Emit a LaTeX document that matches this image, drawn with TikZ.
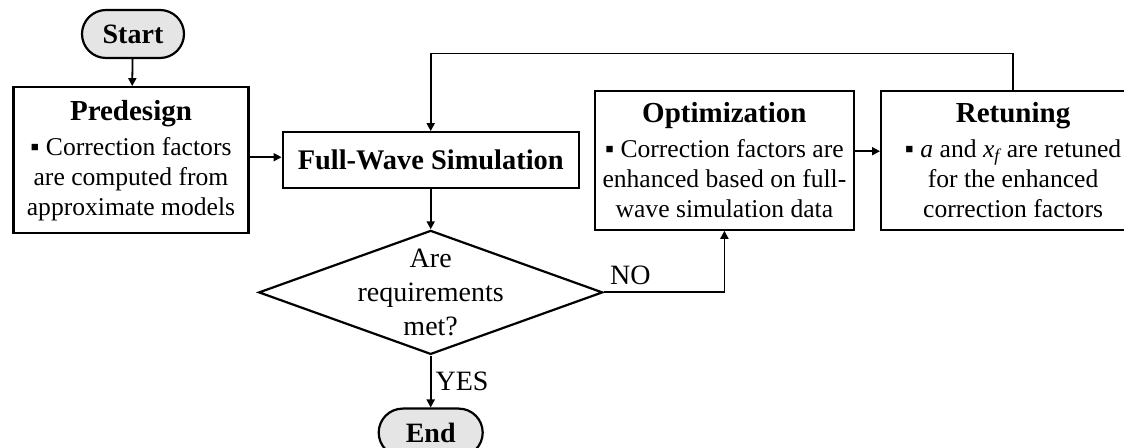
\documentclass[tikz,border=0pt]{standalone}
\usepackage{fontspec}
\setmainfont{Liberation Serif}
\usepackage{tikz}
\usetikzlibrary{positioning,arrows.meta,shapes.geometric}

\newcommand{\boxhead}[1]{{\fontsize{14.5}{17}\selectfont\bfseries #1}}

\begin{document}
\begin{tikzpicture}[
  font=\fontsize{12.8}{15}\selectfont,
  box/.style={draw=black,line width=1.1pt,align=center,inner sep=2pt,fill=white},
  term/.style={box,fill=black!10,rounded corners=12pt,minimum width=51pt,minimum height=24pt,font=\fontsize{14}{16}\selectfont\bfseries},
  dec/.style={box,shape=diamond,aspect=2.77,inner sep=-5pt,minimum width=172pt,minimum height=62pt,font=\fontsize{14}{17}\selectfont},
  lab/.style={font=\fontsize{14}{16}\selectfont,inner sep=2pt},
  ar/.style={-{Triangle[length=4pt,width=4pt]},line width=0.9pt}]
  \useasboundingbox (0,0) rectangle (562pt,-224pt);
  \node[term] (start) at (66.5pt,-17pt) {Start};
  \node[box,below=13.5pt of start,xshift=-1pt,minimum width=117.5pt,minimum height=73pt] (predesign) {\boxhead{Predesign}\\[2.5pt] ▪ Correction factors\\ are computed from\\ approximate models};
  \node[box,right=16pt of predesign,minimum width=148pt,minimum height=28pt,font=\fontsize{14.2}{16}\selectfont\bfseries] (fullwave) {Full-Wave Simulation};
  \node[dec,below=20pt of fullwave] (check) {Are\\ requirements\\ met?};
  \node[term,below=26pt of check,minimum width=52pt] (end) {End};
  \node[box,right=7pt of fullwave,minimum width=129.5pt,minimum height=69.5pt] (optim) {\boxhead{Optimization}\\[2.5pt] ▪ Correction factors are\\ enhanced based on full-\\ wave simulation data};
  \node[box,right=12.5pt of optim,minimum width=132pt,minimum height=69.5pt] (retune) {\boxhead{Retuning}\\[2.5pt] ▪ \textit{a} and \textit{x}\textsubscript{\textit{f}}\kern-1pt{} are retuned\\ for the enhanced\\ correction factors};
  \draw[ar] (start) -- (predesign);
  \draw[ar] ([yshift=1.5pt]predesign.east) -- ([yshift=1.5pt]predesign.east -| fullwave.west);
  \draw[ar] (fullwave) -- (check);
  \draw[ar] (check) -- node[lab,right]{YES} (end);
  \draw[ar] (check.east) -| node[lab,above,pos=0.11,inner sep=3.5pt]{NO} (optim.south);
  \draw[ar] ([yshift=4.5pt]optim.east) -- ([yshift=4.5pt]optim.east -| retune.west);
  \draw[ar] (retune.north) -- ++(0,18pt) -| (fullwave.north);
\end{tikzpicture}
\end{document}
